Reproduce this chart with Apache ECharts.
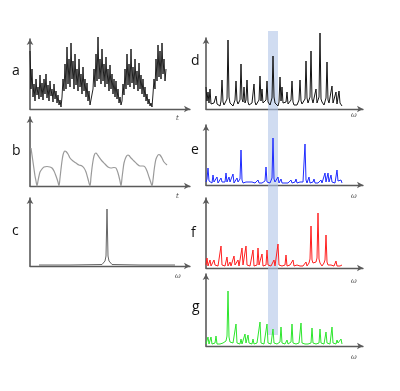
<!DOCTYPE html>
<html>
<head>
<meta charset="utf-8">
<style>
  html, body { margin: 0; padding: 0; background: #fff; }
  #chart { width: 400px; height: 391px; }
</style>
<script src="https://cdn.jsdelivr.net/npm/echarts/dist/echarts.min.js"></script>
</head>
<body>
<div id="chart"></div>
<script>
// panel letters and axis names
const panelNames = ['a', 'b', 'c', 'd', 'e', 'f', 'g']
const axisNames = ['t', 't', 'ω', 'ω', 'ω', 'ω', 'ω']

// a: noisy time signal, one value per step
const aSignal = [
  58, 20, 40, 12, 25, 8, 30, 14, 22, 10,
  34, 12, 26, 9, 30, 15, 35, 11, 24, 8,
  28, 13, 20, 7, 25, 10, 18, 6, 14, 4,
  9, 2, 12, 30, 18, 45, 20, 62, 25, 50,
  22, 66, 30, 48, 20, 55, 24, 40, 18, 50,
  22, 35, 15, 42, 18, 30, 12, 26, 8, 18,
  4, 2, 5, 20, 40, 22, 55, 28, 72, 30,
  50, 25, 60, 28, 45, 22, 52, 25, 40, 18,
  44, 20, 35, 15, 30, 12, 28, 10, 20, 6,
  12, 4, 8, 25, 14, 40, 20, 55, 24, 45,
  22, 60, 26, 42, 20, 50, 24, 38, 18, 46,
  20, 34, 15, 30, 12, 22, 8, 15, 5, 10,
  3, 6, 2, 15, 30, 20, 50, 28, 64, 32,
  58, 30, 66, 35, 50, 28, 40
]

// b: periodic signal [t, value]
const bSignal = [
  [1, 38], [2, 31], [3, 24], [4, 17], [5, 10], [6, 5], [7, 0], [8, 5], [9, 10], [10, 14],
  [12, 17], [14, 19], [17, 19.5], [20, 19], [22, 18], [24, 15], [26, 10], [28, 4], [29, 0],
  [30, 8], [31, 17], [32, 25], [33, 31], [34, 34], [35, 35], [36, 34.5], [38, 32], [40, 28],
  [43, 25], [46, 23], [49, 21], [52, 20], [54, 18], [56, 14], [58, 7], [60, 0],
  [61, 9], [62, 18], [63, 25], [64, 30], [65, 32.5], [66, 33], [67, 32], [69, 29], [72, 25],
  [75, 22], [78, 19], [81, 18], [84, 18.5], [86, 18], [88, 13], [90, 5], [91, 0],
  [92, 8], [93, 16], [94, 23], [96, 29], [98, 31], [99, 30.5], [101, 28], [104, 25],
  [107, 22], [110, 20], [113, 20], [115, 19], [117, 15], [119, 9], [121, 3], [122, 0],
  [123, 6], [124, 15], [125, 22], [126, 27], [128, 31], [129, 31.5], [130, 31], [132, 28],
  [134, 24], [137, 21]
]

// c: single-line spectrum [omega, value]
const cSpectrum = [
  [9, 1], [40, 1], [72, 1.5], [74, 3], [75, 5], [76, 10], [77, 57], [78, 10], [79, 5],
  [80, 3], [82, 1.5], [110, 1], [145, 1]
]

// d-g: spectra, one value per step
const dSpectrum = [
  22, 8, 17, 6, 20, 5, 7, 4, 6, 5,
  13, 5, 4, 6, 3, 8, 29, 7, 4, 5,
  6, 10, 69, 12, 6, 4, 5, 3, 6, 9,
  28, 8, 5, 4, 9, 45, 10, 7, 22, 6,
  9, 29, 7, 4, 5, 3, 6, 8, 25, 7,
  4, 5, 6, 9, 33, 8, 20, 6, 4, 5,
  9, 28, 7, 5, 4, 6, 11, 53, 12, 6,
  4, 5, 3, 7, 32, 8, 22, 6, 4, 5,
  7, 17, 5, 4, 6, 9, 28, 7, 4, 5,
  3, 4, 6, 9, 29, 8, 5, 4, 6, 10,
  48, 11, 6, 5, 12, 58, 10, 6, 4, 5,
  20, 6, 5, 12, 76, 10, 7, 5, 4, 6,
  11, 47, 9, 6, 4, 7, 23, 6, 5, 4,
  17, 5, 7, 18, 6, 4, 3
]
const eSpectrum = [
  3, 6, 17, 4, 2, 3, 2, 10, 3, 2,
  3, 8, 2, 3, 2, 7, 3, 2, 4, 3,
  12, 3, 2, 8, 3, 2, 3, 11, 2, 3,
  2, 7, 3, 2, 6, 35, 5, 2, 3, 2,
  3, 5, 2, 3, 2, 2, 3, 2, 3, 2,
  2, 3, 5, 2, 3, 2, 2, 3, 2, 4,
  18, 3, 2, 3, 2, 4, 7, 47, 6, 3,
  2, 3, 8, 2, 3, 6, 2, 3, 2, 2,
  3, 3, 2, 2, 3, 5, 2, 3, 2, 3,
  6, 2, 3, 2, 3, 5, 2, 3, 5, 41,
  5, 2, 3, 8, 2, 3, 2, 3, 6, 2,
  3, 4, 2, 3, 2, 5, 2, 3, 2, 12,
  3, 2, 12, 3, 2, 10, 3, 2, 3, 2,
  3, 15, 4, 2, 3, 5, 2
]
const fSpectrum = [
  3, 10, 2, 3, 8, 2, 3, 2, 8, 3,
  2, 3, 2, 2, 3, 22, 3, 2, 3, 2,
  3, 11, 2, 3, 6, 2, 3, 2, 12, 3,
  2, 3, 8, 2, 3, 4, 20, 3, 2, 3,
  22, 3, 2, 3, 2, 2, 3, 18, 2, 3,
  2, 3, 20, 3, 2, 3, 14, 2, 3, 2,
  3, 18, 3, 2, 3, 2, 3, 2, 8, 2,
  3, 4, 24, 3, 2, 3, 2, 3, 2, 3,
  13, 2, 3, 2, 3, 2, 3, 8, 2, 3,
  2, 3, 2, 3, 2, 3, 4, 2, 3, 2,
  6, 2, 3, 5, 9, 42, 8, 5, 3, 4,
  6, 10, 55, 9, 5, 3, 2, 3, 5, 8,
  33, 6, 3, 2, 3, 3, 2, 3, 2, 3,
  7, 2, 3, 3, 2, 2, 3
]
const gSpectrum = [
  2, 3, 9, 2, 3, 9, 2, 3, 2, 3,
  10, 2, 3, 2, 2, 3, 2, 3, 2, 3,
  5, 10, 55, 9, 4, 3, 2, 3, 2, 3,
  22, 3, 2, 3, 2, 7, 2, 3, 2, 12,
  3, 2, 11, 3, 2, 3, 2, 7, 2, 3,
  2, 3, 2, 4, 24, 3, 2, 3, 2, 3,
  2, 22, 3, 2, 3, 2, 4, 17, 3, 2,
  3, 2, 3, 2, 4, 19, 3, 2, 3, 2,
  3, 6, 2, 3, 2, 4, 22, 3, 2, 3,
  2, 3, 2, 3, 4, 23, 3, 2, 3, 2,
  3, 4, 2, 3, 2, 3, 18, 3, 2, 3,
  2, 3, 2, 3, 17, 3, 2, 3, 2, 3,
  14, 3, 2, 3, 2, 3, 19, 3, 2, 3,
  2, 6, 3, 2, 3, 7, 2
]

// highlighted frequency band across d-g
const bandRange = [62, 72]

const indexed = arr => arr.map((v, i) => [i, v])

const panelData = [
  indexed(aSignal), bSignal, cSpectrum,
  indexed(dSpectrum), indexed(eSpectrum), indexed(fSpectrum), indexed(gSpectrum)
]

// grid boxes in px; x and y units are px so the axis max equals the box size
const layout = [
  { left: 30, top: 39, width: 160, height: 70 },
  { left: 30, top: 117, width: 160, height: 69 },
  { left: 30, top: 198, width: 160, height: 68 },
  { left: 206, top: 38, width: 157, height: 71 },
  { left: 206, top: 125, width: 157, height: 60 },
  { left: 206, top: 198, width: 157, height: 70 },
  { left: 206, top: 274, width: 157, height: 72 }
]
const lineColors = ['#0a0a0a', '#9a9a9a', '#666666', '#141414', '#1f2cff', '#ff2020', '#2ee62e']
const lineWidths = [0.9, 1.2, 1, 1, 1, 1, 1]

const letterPos = [[12, 64], [12, 144], [12, 224], [191, 54], [191, 143], [191, 226], [192, 300]]
const namePos = [[176, 115], [176, 193], [175, 273], [351, 112], [351, 193], [351, 278], [351, 354]]

const axisColor = '#5a5a5a'

function buildAxis(show, max, width) {
  return {
    type: 'value',
    min: 0,
    max: max,
    show: show,
    axisLine: {
      show: true,
      symbol: ['none', 'arrow'],
      symbolSize: [5, 6],
      lineStyle: { color: axisColor, width: width }
    },
    axisTick: { show: false },
    axisLabel: { show: false },
    splitLine: { show: false }
  }
}

const grids = []
const xAxes = []
const yAxes = []
const series = []
const titles = []

// band grid spans all right panels
grids.push({ left: 206, top: 31, width: 157, height: 304 })
xAxes.push(Object.assign(buildAxis(false, 157, 1), { gridIndex: 0 }))
yAxes.push(Object.assign(buildAxis(false, 100, 1), { gridIndex: 0 }))
series.push({
  type: 'line',
  xAxisIndex: 0,
  yAxisIndex: 0,
  data: [],
  z: 0,
  markArea: {
    silent: true,
    itemStyle: { color: 'rgba(176,196,232,0.6)' },
    data: [[{ xAxis: bandRange[0] }, { xAxis: bandRange[1] }]]
  }
})

for (let i = 0; i < panelNames.length; i++) {
  const box = layout[i]
  const k = i + 1
  grids.push({ left: box.left, top: box.top, width: box.width, height: box.height })
  xAxes.push(Object.assign(buildAxis(true, box.width, 1.3), { gridIndex: k }))
  yAxes.push(Object.assign(buildAxis(true, box.height, 1.6), { gridIndex: k }))
  series.push({
    name: panelNames[i],
    type: 'line',
    xAxisIndex: k,
    yAxisIndex: k,
    data: panelData[i],
    smooth: i === 1 ? 0.3 : false,
    showSymbol: false,
    clip: false,
    z: 3,
    lineStyle: { color: lineColors[i], width: lineWidths[i] }
  })
  titles.push({
    text: panelNames[i],
    left: letterPos[i][0],
    top: letterPos[i][1],
    padding: 0,
    textStyle: { fontFamily: 'Open Sans', fontWeight: 'normal', fontSize: 14, color: '#111' }
  })
  titles.push({
    text: axisNames[i],
    left: namePos[i][0],
    top: namePos[i][1],
    padding: 0,
    textStyle: { fontFamily: 'DejaVu Serif', fontStyle: 'italic', fontWeight: 'normal', fontSize: 7, color: '#444' }
  })
}

const chart = echarts.init(document.getElementById('chart'))
chart.setOption({
  backgroundColor: '#ffffff',
  animation: false,
  title: titles,
  grid: grids,
  xAxis: xAxes,
  yAxis: yAxes,
  series: series
})
</script>
</body>
</html>
